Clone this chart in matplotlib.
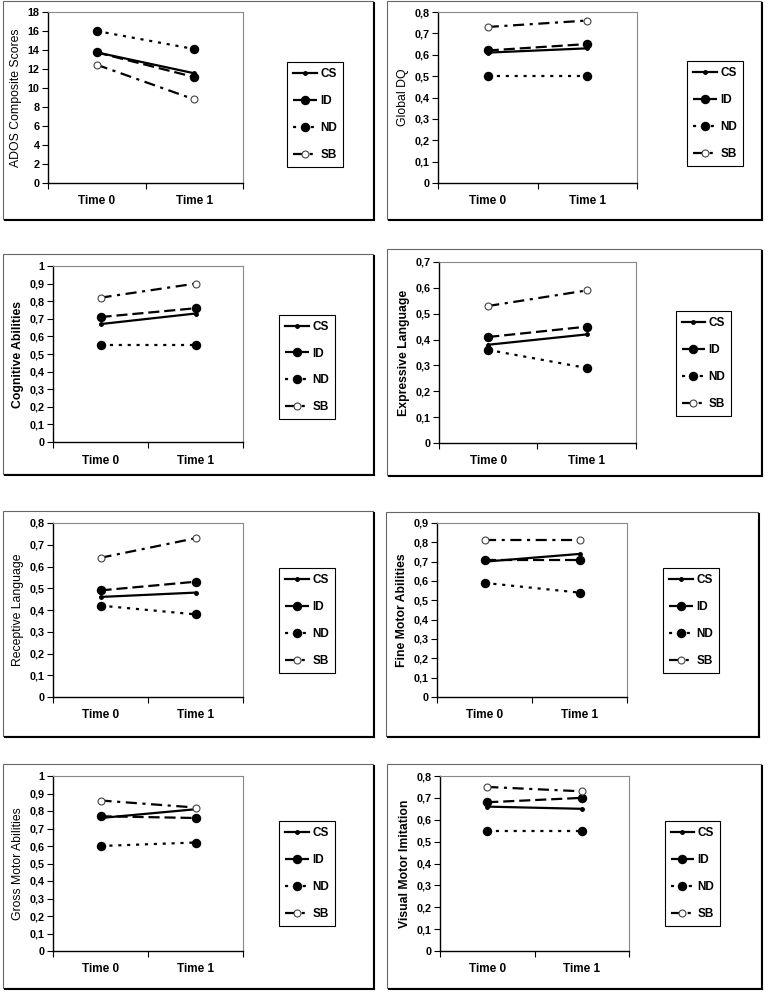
import matplotlib
matplotlib.use("Agg")
import matplotlib.pyplot as plt
from matplotlib.patches import Rectangle
from matplotlib.lines import Line2D

plt.rcParams['font.family'] = ['Liberation Sans', 'DejaVu Sans']

W, H = 775, 992

times = ["Time 0", "Time 1"]
groups = ["CS", "ID", "ND", "SB"]

titles = ["ADOS Composite Scores", "Global DQ", "Cognitive Abilities", "Expressive Language",
          "Receptive Language", "Fine Motor Abilities", "Gross Motor Abilities", "Visual Motor Imitation"]
label_bold = [False, False, True, True, False, True, False, True]

ymax = [18, 0.8, 1.0, 0.7, 0.8, 0.9, 1.0, 0.8]
ystep = [2, 0.1, 0.1, 0.1, 0.1, 0.1, 0.1, 0.1]

cs = [[13.75, 11.55], [0.61, 0.63], [0.67, 0.73], [0.38, 0.42],
      [0.46, 0.48], [0.70, 0.74], [0.76, 0.81], [0.66, 0.65]]
idd = [[13.75, 11.15], [0.62, 0.65], [0.71, 0.76], [0.41, 0.45],
       [0.49, 0.53], [0.71, 0.71], [0.77, 0.76], [0.68, 0.70]]
nd = [[16.0, 14.1], [0.50, 0.50], [0.55, 0.55], [0.36, 0.29],
      [0.42, 0.38], [0.59, 0.54], [0.60, 0.62], [0.55, 0.55]]
sb = [[12.45, 8.8], [0.73, 0.76], [0.82, 0.90], [0.53, 0.59],
      [0.64, 0.73], [0.81, 0.81], [0.86, 0.82], [0.75, 0.73]]

# layout in pixels: (box l, t, r, b), (axes l, t, r, b), (legend l, t, r, b)
boxes = [(3, 1, 373, 219), (387, 1, 761, 219),
         (3, 254, 373, 474), (387, 249, 761, 475),
         (3, 511, 373, 736), (386, 512, 758, 736),
         (3, 764, 373, 988), (387, 764, 761, 988)]
axes_px = [(48, 12, 243, 183), (438, 12, 637, 183),
           (53, 266, 243, 442), (439, 262, 636, 443),
           (53, 523, 243, 697), (437, 523, 627, 697),
           (53, 776, 243, 951), (440, 776, 629, 951)]
leg_px = [(287, 64, 343, 165), (689, 64, 741, 163),
          (283, 319, 331, 415), (677, 314, 730, 413),
          (283, 574, 331, 667), (667, 574, 715, 667),
          (283, 827, 331, 920), (668, 827, 717, 920)]

fig = plt.figure(figsize=(W / 100, H / 100), dpi=100)

def fx(x):
    return x / W

def fy(y):
    return 1 - y / H

styles = {
    "CS": dict(linestyle='-', marker='o', markersize=2.5, markerfacecolor='black', markeredgecolor='black'),
    "ID": dict(linestyle=(0, (5, 2.2)), marker='o', markersize=5.8, markerfacecolor='black', markeredgecolor='black'),
    "ND": dict(linestyle=(0, (1.4, 2.6)), marker='o', markersize=5.8, markerfacecolor='black', markeredgecolor='black'),
    "SB": dict(linestyle=(0, (5, 2.5, 1.4, 2.5)), marker='o', markersize=5, markerfacecolor='white', markeredgecolor='#444444', markeredgewidth=0.8),
}

for i in range(8):
    bl, bt, br, bb = boxes[i]
    fig.patches.append(Rectangle((fx(bl), fy(bb)), fx(br - bl), (bb - bt) / H,
                                 transform=fig.transFigure, fill=False,
                                 edgecolor='#666666', linewidth=0.8, zorder=0))
    fig.add_artist(Line2D([fx(br + 1), fx(br + 1)], [fy(bb + 1), fy(bt + 2)],
                          transform=fig.transFigure, color='black', linewidth=1.5))
    fig.add_artist(Line2D([fx(bl + 2), fx(br + 1)], [fy(bb + 1), fy(bb + 1)],
                          transform=fig.transFigure, color='black', linewidth=1.5))

    al, at, ar, ab = axes_px[i]
    ax = fig.add_axes([fx(al), fy(ab), fx(ar - al), (ab - at) / H])
    x = [0, 1]
    series = {"CS": cs[i], "ID": idd[i], "ND": nd[i], "SB": sb[i]}
    handles = []
    for g in groups:
        ln, = ax.plot(x, series[g], color='black', linewidth=1.6, label=g, **styles[g])
        handles.append(ln)
    ax.set_xlim(-0.5, 1.5)
    ax.set_ylim(0, ymax[i])
    n = int(round(ymax[i] / ystep[i]))
    yt = [k * ystep[i] for k in range(n + 1)]
    ax.set_yticks(yt)
    if ystep[i] >= 1:
        ax.set_yticklabels([str(int(round(v))) for v in yt])
    else:
        ax.set_yticklabels(["0" if k == 0 else ("1" if abs(v - 1) < 1e-9 else f"{v:.1f}".replace('.', ','))
                            for k, v in enumerate(yt)])
    ax.set_xticks([-0.5, 0.5, 1.5])
    ax.set_xticklabels([])
    ax.set_xticks([0, 1], minor=True)
    ax.set_xticklabels(times, minor=True, fontsize=8.5, fontweight='bold')
    ax.tick_params(axis='x', which='minor', length=0, pad=9)
    ax.tick_params(axis='x', which='major', length=4, width=0.8, direction='out')
    ax.tick_params(axis='y', length=4, width=0.8, direction='out', labelsize=7.8, pad=2)
    for lab in ax.get_yticklabels():
        lab.set_fontweight('bold')
    ax.spines['left'].set_color('black')
    ax.spines['bottom'].set_color('black')
    ax.spines['left'].set_linewidth(1.0)
    ax.spines['bottom'].set_linewidth(1.0)
    ax.spines['top'].set_color('#888888')
    ax.spines['right'].set_color('#888888')
    ax.spines['top'].set_linewidth(0.8)
    ax.spines['right'].set_linewidth(0.8)
    ax.set_ylabel(titles[i], fontsize=8.8, fontweight='bold' if label_bold[i] else 'normal', labelpad=4)

    ll, lt, lr, lb = leg_px[i]
    leg = ax.legend(handles=handles, loc='center',
                    bbox_to_anchor=(fx((ll + lr) / 2), fy((lt + lb) / 2)),
                    bbox_transform=fig.transFigure, frameon=True, fancybox=False,
                    edgecolor='black', framealpha=1, fontsize=8.5, numpoints=1,
                    handlelength=2.0, handletextpad=0.3, labelspacing=1.25,
                    borderpad=0.5, borderaxespad=0)
    leg.get_frame().set_linewidth(0.8)
    for t in leg.get_texts():
        t.set_fontweight('bold')

fig.savefig("out.png", dpi=100, facecolor='white')
